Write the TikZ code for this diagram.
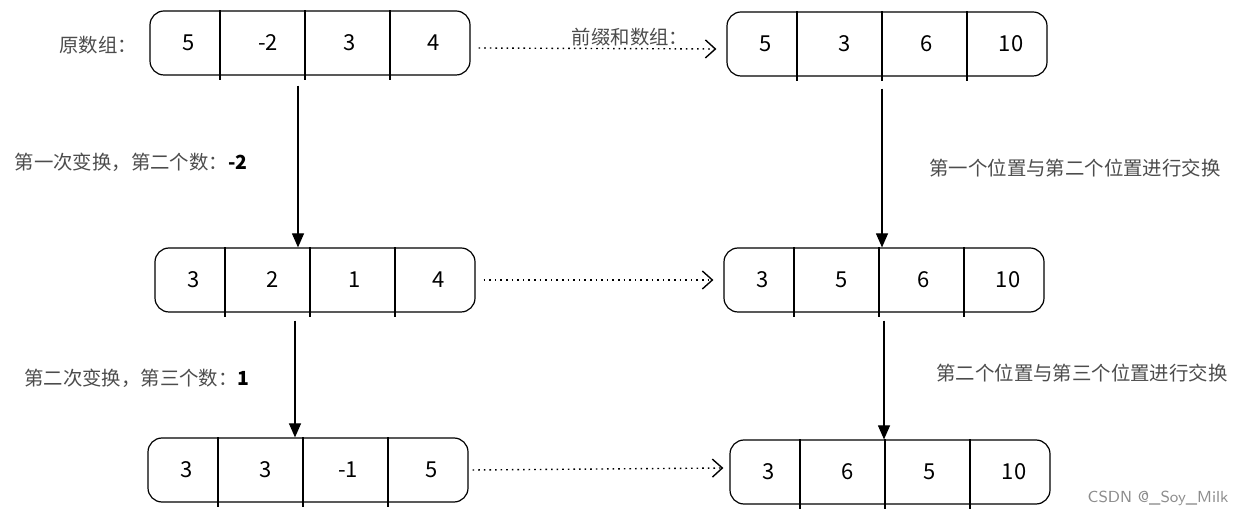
\documentclass[tikz,border=0pt]{standalone}
\usepackage{fontspec}
\newfontfamily\cjk{Noto Sans CJK SC}
\usetikzlibrary{arrows.meta}

\tikzset{
  arr/.style={draw,line width=0.6pt,rounded corners=7pt,minimum width=160pt,minimum height=32pt,inner sep=0pt},
  num/.style={font=\cjk\fontsize{11}{13}\selectfont},
  lab/.style={font=\cjk\fontsize{9.7}{11}\selectfont,text=black!70},
  down/.style={line width=0.6pt,-{Triangle[width=6pt,length=7pt]}},
  sumarrow/.style={dash pattern=on 0.8pt off 2pt,line width=0.7pt,-{Straight Barb[length=5pt,width=9pt]}}
}

% four cells of one array box
\newcommand{\arrcells}[5]{%
  \node[num] (#1-1) at ([xshift=-60.5pt]#1.center) {#2};
  \node[num] (#1-2) at ([xshift=-21pt]#1.center) {#3};
  \node[num] (#1-3) at ([xshift=20pt]#1.center) {#4};
  \node[num] (#1-4) at ([xshift=62pt]#1.center) {#5};
  \draw[line width=0.6pt] ([xshift=-45pt]#1.north) -- ([xshift=-45pt,yshift=-2pt]#1.south);
  \draw[line width=0.6pt] ([xshift=-2.5pt]#1.north) -- ([xshift=-2.5pt,yshift=-2pt]#1.south);
  \draw[line width=0.6pt] ([xshift=40pt]#1.north) -- ([xshift=40pt,yshift=-2pt]#1.south);
}

\begin{document}
\begin{tikzpicture}[x=0.5pt,y=-0.5pt]
  \useasboundingbox (0,0) rectangle (1241,517);

  % original array and its two changes
  \node[arr] (o) at (310,43) {};
  \arrcells{o}{5}{-2}{3}{4}
  \node[arr] (t1) at (315,280) {};
  \arrcells{t1}{3}{2}{1}{4}
  \node[arr] (t2) at (308,470) {};
  \arrcells{t2}{3}{3}{-1}{5}

  % prefix sums
  \node[arr] (p0) at (887,44) {};
  \arrcells{p0}{5}{3}{6}{10}
  \node[arr] (p1) at (884,280) {};
  \arrcells{p1}{3}{5}{6}{10}
  \node[arr] (p2) at (890,472) {};
  \arrcells{p2}{3}{6}{5}{10}

  % labels
  \node[lab] (l0) at (98,45) {原数组：};
  \node[lab] (l1) at (630,37) {前缀和数组：};
  \node[lab] (l2) at (131,162) {第一次变换，第二个数：\textcolor{black}{\textbf{-2}}};
  \node[lab] (l3) at (1075,168) {第一个位置与第二个位置进行交换};
  \node[lab] (l4) at (137,378) {第二次变换，第三个数：\textcolor{black}{\textbf{1}}};
  \node[lab] (l5) at (1082,373) {第二个位置与第三个位置进行交换};
  \node[font=\fontsize{8}{10}\selectfont\sffamily,text=black!45] (wm) at (1158,498) {CSDN @\_Soy\_Milk};

  % changes
  \draw[down] ([xshift=-6pt,yshift=-5pt]o.south) -- ([xshift=-6pt]o.south |- t1.north);
  \draw[down] ([xshift=-10pt,yshift=-4pt]t1.south) -- ([xshift=-10pt]t1.south |- t2.north);
  \draw[down] ([xshift=-2.5pt,yshift=-6pt]p0.south) -- ([xshift=-2.5pt]p0.south |- p1.north);
  \draw[down] ([yshift=-4pt]p1.south) -- (p1.south |- p2.north);

  % array to prefix sums
  \draw[sumarrow] ([xshift=4pt,yshift=-2.5pt]o.east) -- ([xshift=-5pt,yshift=-2.5pt]p0.west);
  \draw[sumarrow] ([xshift=4pt]t1.east) -- ([xshift=-5pt]p1.west);
  \draw[sumarrow] ([xshift=2pt]t2.east) -- ([xshift=-3pt,yshift=2pt]p2.west);
\end{tikzpicture}
\end{document}
